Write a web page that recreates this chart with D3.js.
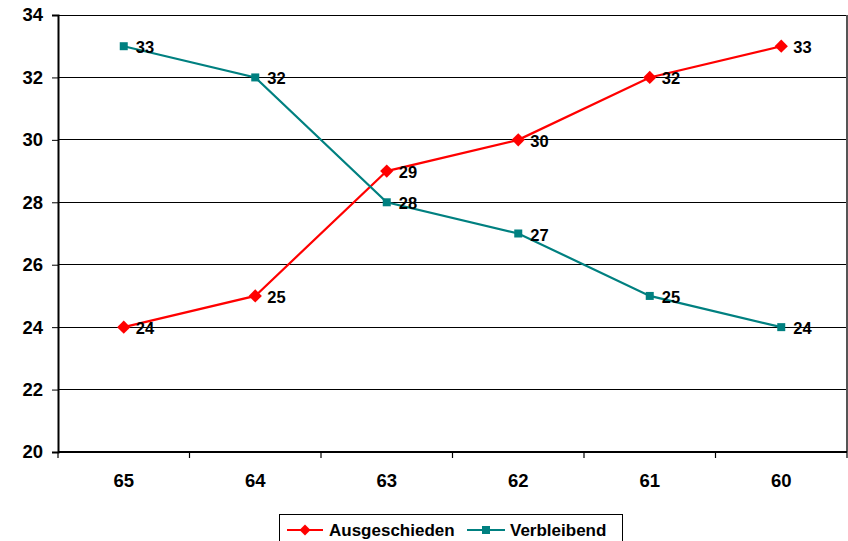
<!DOCTYPE html>
<html><head><meta charset="utf-8">
<script src="https://cdn.jsdelivr.net/npm/d3@7"></script>
<style>body{margin:0;background:#fff}svg{display:block}text{font-family:"Liberation Sans",Arial,sans-serif;font-weight:bold}</style>
</head><body><svg id="c" width="848" height="541"></svg>
<script>
const categories = ["65","64","63","62","61","60"];
const ausgeschieden = [24,25,29,30,32,33];
const verbleibend = [33,32,28,27,25,24];
const yTicks = [20,22,24,26,28,30,32,34];
const seriesNames = ["Ausgeschieden","Verbleibend"];
const colors = ["#FF0000","#008080"];

const svg = d3.select("#c");
const L=58, R=847, T=15, B=452;
const FF='"Liberation Sans",Arial,sans-serif';
const x = d3.scaleBand().domain(categories).range([L,R]);
const y = d3.scaleLinear().domain([20,34]).range([B,T]);

// gridlines
svg.append("g").selectAll("line").data(yTicks.filter(d=>d>20)).join("line")
  .attr("x1",L).attr("x2",R).attr("y1",d=>y(d)).attr("y2",d=>y(d))
  .attr("stroke","#000").attr("stroke-width",1).attr("shape-rendering","crispEdges");
// right border
svg.append("line").attr("x1",R).attr("x2",R).attr("y1",T).attr("y2",B)
  .attr("stroke","#555").attr("stroke-width",1.2).attr("shape-rendering","crispEdges");

// y axis
const ya = svg.append("g").attr("transform",`translate(${L},0)`)
  .call(d3.axisLeft(y).tickValues(yTicks).tickSize(6).tickPadding(9));
ya.select(".domain").attr("stroke","#000").attr("stroke-width",2);
ya.selectAll("text").attr("font-size",18.5).attr("fill","#000").attr("font-family",FF).attr("font-weight","bold");
ya.selectAll(".tick line").attr("stroke","#000");

// x axis
const xa = svg.append("g").attr("transform",`translate(0,${B})`)
  .call(d3.axisBottom(x).tickSize(0).tickPadding(22));
xa.select(".domain").attr("stroke","#000").attr("stroke-width",2).attr("d",`M${L},0H${R}`);
xa.selectAll("text").attr("font-size",18.5).attr("fill","#000").attr("font-family",FF).attr("font-weight","bold");
// category boundary ticks
const bounds = categories.map(c=>x(c)).concat([R]);
svg.append("g").selectAll("line").data(bounds).join("line")
  .attr("x1",d=>d).attr("x2",d=>d).attr("y1",B).attr("y2",B+6)
  .attr("stroke","#000").attr("stroke-width",1.2);

const cx = c => x(c)+x.bandwidth()/2;
const data = [ausgeschieden, verbleibend];
const line = d3.line().x((d,i)=>cx(categories[i])).y(d=>y(d));

data.forEach((vals,si)=>{
  const g = svg.append("g");
  g.append("path").attr("d",line(vals)).attr("fill","none").attr("stroke",colors[si]).attr("stroke-width",2.2);
  if(si===0){
    g.selectAll("path.m").data(vals).join("path").attr("class","m")
      .attr("d",d3.symbol(d3.symbolSquare,88))
      .attr("transform",(d,i)=>`translate(${cx(categories[i])},${y(d)}) rotate(45)`)
      .attr("fill",colors[si]);
  } else {
    g.selectAll("rect").data(vals).join("rect")
      .attr("x",(d,i)=>cx(categories[i])-4).attr("y",d=>y(d)-4)
      .attr("width",8).attr("height",8).attr("fill",colors[si]);
  }
  g.selectAll("text").data(vals).join("text")
    .attr("x",(d,i)=>cx(categories[i])+12).attr("y",d=>y(d)+7)
    .attr("font-size",16.5).attr("fill","#000").text(d=>d);
});

// legend
const lg = svg.append("g");
lg.append("rect").attr("x",279.5).attr("y",514.5).attr("width",343).attr("height",30)
  .attr("fill","#fff").attr("stroke","#000").attr("stroke-width",1);
const legItems = [{x1:287,x2:323,tx:329},{x1:467,x2:505,tx:510}];
legItems.forEach((it,i)=>{
  lg.append("line").attr("x1",it.x1).attr("x2",it.x2).attr("y1",530).attr("y2",530)
    .attr("stroke",colors[i]).attr("stroke-width",2.2);
  const mx=(it.x1+it.x2)/2;
  if(i===0){
    lg.append("path").attr("d",d3.symbol(d3.symbolSquare,60)).attr("transform",`translate(${mx},530) rotate(45)`).attr("fill",colors[i]);
  } else {
    lg.append("rect").attr("x",mx-4).attr("y",526).attr("width",8).attr("height",8).attr("fill",colors[i]);
  }
  lg.append("text").attr("x",it.tx).attr("y",536).attr("font-size",17).attr("fill","#000").text(seriesNames[i]);
});
</script></body></html>
